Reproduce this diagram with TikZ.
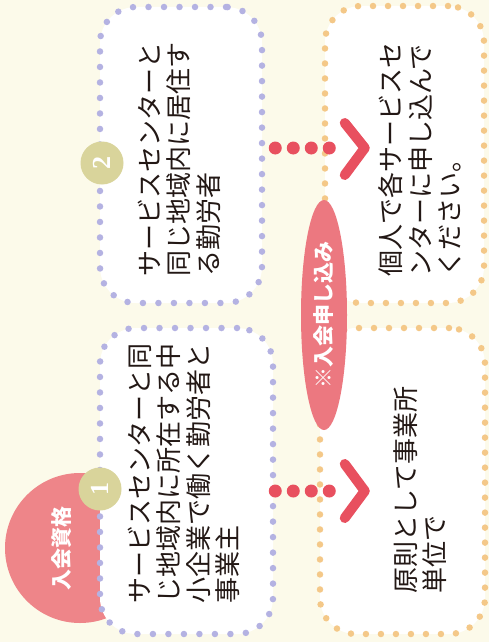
\documentclass[tikz,border=0pt]{standalone}
\usepackage{fontspec}
\usetikzlibrary{shapes.geometric}
\setmainfont{Noto Sans CJK JP}
\newfontfamily\numfont{Liberation Serif}
\definecolor{bgcream}{HTML}{FCFAEA}
\definecolor{lav}{HTML}{B4B2E2}
\definecolor{orng}{HTML}{F4C888}
\definecolor{pinkfill}{HTML}{EE8589}
\definecolor{pinkell}{HTML}{EC7880}
\definecolor{arrred}{HTML}{E8505F}
\definecolor{badgec}{HTML}{D9D49B}
\definecolor{txt}{HTML}{231815}
\tikzset{
  purplebox/.style={draw=lav, fill=white, line width=6.5pt, line cap=round,
    dash pattern=on 0pt off 15.5pt, rounded corners=36pt, inner sep=0pt},
  orangebox/.style={draw=orng, fill=white, line width=6.5pt, line cap=round,
    dash pattern=on 0pt off 15pt, rounded corners=36pt, inner sep=0pt},
  boxtext/.style={rotate=90, anchor=west, align=left, inner sep=0pt, text=txt,
    font=\fontsize{26}{29.5}\selectfont},
  arrowdots/.style={draw=arrred, line width=13pt, line cap=round,
    dash pattern=on 0pt off 18pt},
  chevron/.style={draw=arrred, line width=10pt, line cap=round, line join=round},
  badge/.style={circle, fill=badgec, minimum size=43pt, inner sep=0pt, text=white,
    rotate=90, font=\numfont\bfseries\fontsize{26}{26}\selectfont},
}
\begin{document}
\begin{tikzpicture}[x=1pt,y=-1pt]
\useasboundingbox (0,0) rectangle (489,642);
\fill[bgcream] (0,0) rectangle (489,642);
% semicircle label
\fill[pinkfill] (80,548) circle[radius=75pt];
% boxes
\node[purplebox, minimum width=162pt, minimum height=296pt] (b2) at (181,155) {};
\node[purplebox, minimum width=173pt, minimum height=306pt] (b1) at (186.5,481) {};
\node[orangebox, minimum width=159pt, minimum height=297pt] (o2) at (404.5,154.5) {};
\node[orangebox, minimum width=165pt, minimum height=306pt] (o1) at (402.5,481) {};
% ellipse label
\node[ellipse, fill=pinkell, minimum width=46pt, minimum height=230pt, inner sep=0pt] (apply) at (324,315) {};
\node[rotate=90, text=white, font=\bfseries\fontsize{21}{21}\selectfont, inner sep=0pt] (applyt) at (apply.center) {※入会申し込み};
% qualification label
\node[rotate=90, text=white, font=\bfseries\fontsize{21}{21}\selectfont, inner sep=0pt] (qual) at (62,548) {入会資格};
% arrows
\coordinate (r2) at (0,148);
\coordinate (r1) at (0,491);
\draw[arrowdots] ([xshift=10pt]b2.east |- r2) -- ([xshift=19.5pt]o2.west |- r2);
\draw[chevron] ([xshift=43pt]o2.west |- r2) ++(-20,-25) -- ++(20,25) -- ++(-20,27);
\draw[arrowdots] ([xshift=-1pt]b1.east |- r1) -- ([xshift=24.5pt]o1.west |- r1);
\draw[chevron] ([xshift=48pt]o1.west |- r1) ++(-20,-27) -- ++(20,27) -- ++(-20,27);
% badges
\node[badge] (n2) at (102,163) {2};
\node[badge] (n1) at (100,489) {1};
% texts
\node[boxtext] (t2) at (179,277) {サービスセンターと\\同じ地域内に居住す\\る勤労者};
\node[boxtext] (t1) at (184,604) {サービスセンターと同\\じ地域内に所在する中\\小企業で働く勤労者と\\事業主};
\node[boxtext] (u2) at (420,277) {個人で各サービスセ\\ンターに申し込んで\\ください。};
\node[boxtext] (u1) at (420,594) {原則として事業所\\単位で};
\end{tikzpicture}
\end{document}
